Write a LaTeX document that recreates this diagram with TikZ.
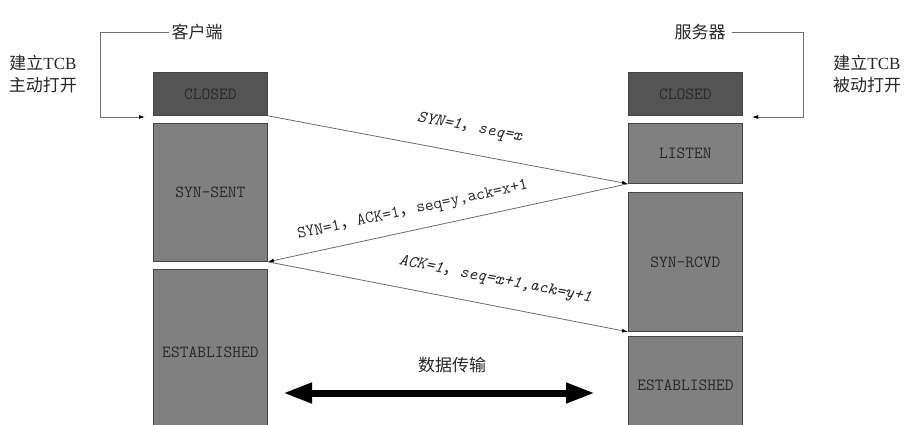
\documentclass[tikz,border=0pt]{standalone}
\usepackage{fontspec}
\setmainfont{Liberation Serif}
\newfontfamily\cjk{Noto Sans CJK SC}
\usetikzlibrary{arrows.meta}
\definecolor{closedgray}{RGB}{84,84,84}
\definecolor{boxgray}{RGB}{128,128,128}
\definecolor{edgegray}{RGB}{70,70,70}
\definecolor{txtgray}{RGB}{40,40,40}
\definecolor{linegray}{RGB}{110,110,110}
\begin{document}
\begin{tikzpicture}[x=1pt,y=-1pt,
  statebox/.style={draw=edgegray, line width=0.8pt, fill=boxgray, text=txtgray,
    font=\ttfamily\addfontfeature{FakeBold=1}\fontsize{17}{17}\selectfont, minimum width=114pt,
    inner sep=0pt, anchor=north west},
  closedbox/.style={statebox, fill=closedgray, minimum height=43pt},
  cjklab/.style={text=txtgray, font=\cjk\fontsize{17}{20}\selectfont, inner sep=0pt},
  sidelab/.style={text=txtgray, font=\fontsize{17}{22}\selectfont, align=center, inner sep=0pt},
  msg/.style={draw=linegray, line width=0.8pt},
  msgtip/.style={-{Latex[length=6pt,width=4pt,black]}},
  msglab/.style={sloped, text=txtgray, font=\ttfamily\addfontfeature{FakeBold=0.6}\fontsize{17}{17}\selectfont, inner sep=0pt},
  bracket/.style={draw=linegray, line width=0.8pt, -{Latex[length=6pt,width=4pt,black]}},
  datatip/.style={line width=7pt, black, {Triangle[length=29pt,width=19pt]}-{Triangle[length=29pt,width=19pt]}}
]
\path[use as bounding box] (0,0) rectangle (918,424);
\clip (0,0) rectangle (918,424);
\fill[white] (0,0) rectangle (918,424);

% client column
\node[closedbox] (cclosed) at (153,72) {CLOSED};
\node[statebox, minimum height=138pt] (csent) at (153,123) {SYN-SENT};
\node[statebox, minimum height=166pt] (cest) at (153,269) {ESTABLISHED};

% server column
\node[closedbox] (sclosed) at (628,72) {CLOSED};
\node[statebox, minimum height=60pt] (slisten) at (628,123) {LISTEN};
\node[statebox, minimum height=139pt] (srcvd) at (628,192) {SYN-RCVD};
\node[statebox, minimum height=98pt] (sest) at (628,336) {ESTABLISHED};

% titles
\node[cjklab] (client) at (197,32) {客户端};
\node[cjklab] (server) at (700,32) {服务器};
\node[sidelab] (cact) at (43,74) {{\cjk 建立}TCB\\{\cjk 主动打开}};
\node[sidelab] (spas) at (867,74) {{\cjk 建立}TCB\\{\cjk 被动打开}};

\coordinate (cturn) at (100,117);
\coordinate (cin) at (145,117);
\coordinate (sturn) at (803,117);
\coordinate (sin) at (752,117);
\draw[bracket] ([xshift=-2pt]client.west) -| (cturn) -- (cin);
\draw[bracket] ([xshift=6pt]server.east) -| (sturn) -- (sin);

% handshake messages
\draw[msg, msgtip] (cclosed.south east) --
  node[msglab, pos=0.547, above=18pt] {\itshape SYN=1{\cjk ，}seq=x} (slisten.south west);
\draw[msg, -{Latex[length=6pt,width=4pt,black]}] (slisten.south west) -- (csent.south east);
\path (csent.south east) --
  node[msglab, pos=0.414, above=12pt] (lab2) {SYN=1{\cjk ，}ACK=1{\cjk ，}seq=y,ack=x+1} (slisten.south west);
\draw[msg, msgtip] (csent.south east) --
  node[msglab, pos=0.618, above=18pt] {\itshape ACK=1{\cjk ，}seq=x+1,ack=y+1} (srcvd.south west);

% data transfer
\node[cjklab] (data) at (452,365) {数据传输};
\coordinate (dl) at (283,393);
\coordinate (dr) at (595,393);
\draw[datatip] (dl) -- (dr);
\end{tikzpicture}
\end{document}
